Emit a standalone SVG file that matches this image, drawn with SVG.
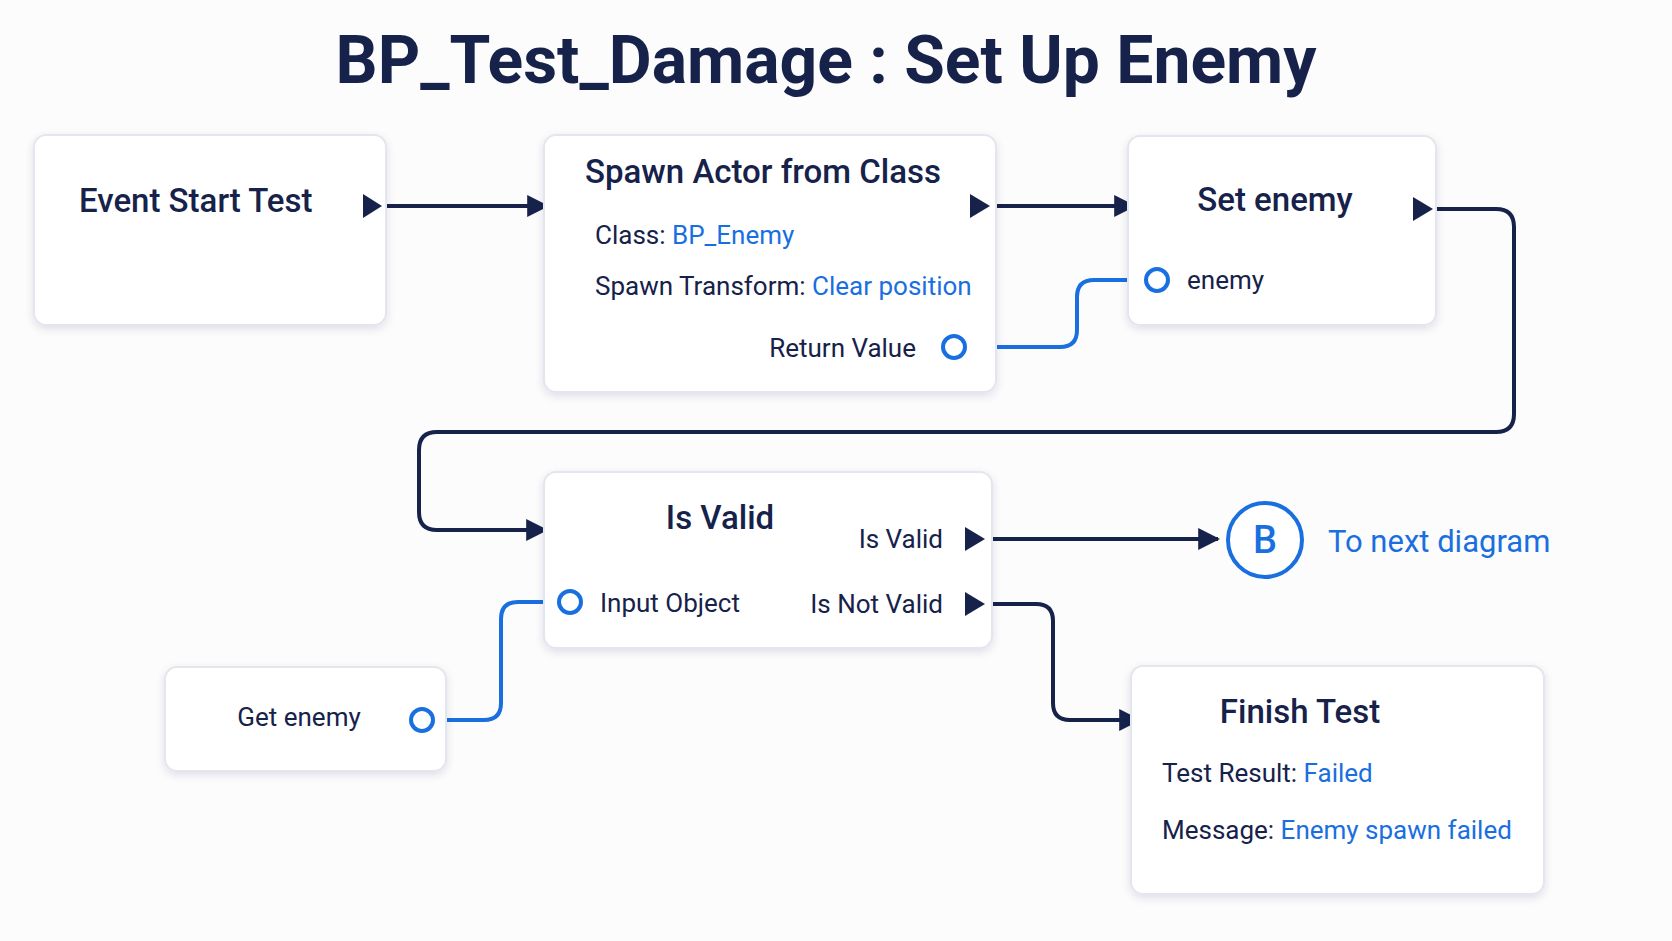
<svg xmlns="http://www.w3.org/2000/svg" width="1672" height="941" viewBox="0 0 1672 941">
<defs>
<style>
.node{fill:#fff;stroke:#e3e6ec;stroke-width:2}
.t{font-family:Roboto,"Liberation Sans",sans-serif;fill:#16224a}
.h{font-size:33px;font-weight:500}
.l{font-size:26px}
.b{fill:#1a6fe0}
.exec{fill:none;stroke:#16224a;stroke-width:4;stroke-linejoin:round}
.data{fill:none;stroke:#1a6fe0;stroke-width:4}
.pin{fill:#fff;stroke:#1a6fe0;stroke-width:4}
.tri{fill:#16224a}
</style>
<filter id="sh" x="-10%" y="-10%" width="120%" height="130%"><feDropShadow dx="0" dy="3" stdDeviation="4" flood-color="#1a2340" flood-opacity="0.12"/></filter>
<marker id="ah2" viewBox="0 0 10 10" refX="9" refY="5" markerWidth="22" markerHeight="22" orient="auto" markerUnits="userSpaceOnUse"><path d="M0,0 L10,5 L0,10Z" fill="#16224a"/></marker>
</defs>
<rect width="1672" height="941" fill="#fcfcfd"/>
<text class="t" x="826" y="83" text-anchor="middle" font-size="66" font-weight="700">BP_Test_Damage : Set Up Enemy</text>

<g id="connectors">
<path class="exec" d="M386,206 H547" marker-end="url(#ah2)"/>
<path class="exec" d="M996,206 H1134" marker-end="url(#ah2)"/>
<path class="exec" d="M1436,209 H1496 Q1514,209 1514,227 V414 Q1514,432 1496,432 H437 Q419,432 419,450 V512 Q419,530 437,530 H546" marker-end="url(#ah2)"/>
<path class="exec" d="M992,539 H1218" marker-end="url(#ah2)"/>
<path class="exec" d="M992,604 H1036 Q1053,604 1053,621 V703 Q1053,720 1070,720 H1139" marker-end="url(#ah2)"/>
<path class="data" d="M967,347 H1060 Q1077,347 1077,330 V297 Q1077,280 1094,280 H1145"/>
<path class="data" d="M435,720 H484 Q501,720 501,703 V619 Q501,602 518,602 H557"/>
</g>

<g id="event-start-test">
<rect class="node" x="34" y="135" width="352" height="190" rx="12" filter="url(#sh)"/>
<text class="t h" x="79" y="212">Event Start Test</text>
<path class="tri" d="M363,194 L382,206 L363,218Z"/>
</g>

<g id="spawn-actor">
<rect class="node" x="544" y="135" width="452" height="257" rx="12" filter="url(#sh)"/>
<text class="t h" x="763" y="183" text-anchor="middle">Spawn Actor from Class</text>
<text class="t l" x="595" y="244">Class: <tspan class="b">BP_Enemy</tspan></text>
<text class="t l" x="595" y="295">Spawn Transform:  <tspan class="b">Clear position</tspan></text>
<text class="t l" x="916" y="357" text-anchor="end">Return Value</text>
<circle class="pin" cx="954" cy="347" r="11"/>
<path class="tri" d="M970,194 L990,206 L970,218Z"/>
</g>

<g id="set-enemy">
<rect class="node" x="1128" y="136" width="308" height="189" rx="12" filter="url(#sh)"/>
<text class="t h" x="1275" y="211" text-anchor="middle">Set enemy</text>
<circle class="pin" cx="1157" cy="280" r="11"/>
<text class="t l" x="1187" y="289">enemy</text>
<path class="tri" d="M1413,197 L1433,209 L1413,221Z"/>
</g>

<g id="is-valid">
<rect class="node" x="544" y="472" width="448" height="176" rx="12" filter="url(#sh)"/>
<text class="t h" x="720" y="529" text-anchor="middle">Is Valid</text>
<text class="t l" x="943" y="548" text-anchor="end">Is Valid</text>
<path class="tri" d="M965,527 L985,539 L965,551Z"/>
<text class="t l" x="943" y="613" text-anchor="end">Is Not Valid</text>
<path class="tri" d="M965,592 L985,604 L965,616Z"/>
<circle class="pin" cx="570" cy="602" r="11"/>
<text class="t l" x="600" y="612">Input Object</text>
</g>

<g id="connector-b">
<circle cx="1265" cy="540" r="37" fill="#fff" stroke="#1a6fe0" stroke-width="4"/>
<text class="t b" x="1265" y="553" text-anchor="middle" font-size="38" font-weight="500">B</text>
<text class="t b" x="1328" y="552" font-size="31">To next diagram</text>
</g>

<g id="get-enemy">
<rect class="node" x="165" y="667" width="281" height="104" rx="12" filter="url(#sh)"/>
<text class="t l" x="299" y="726" text-anchor="middle">Get enemy</text>
<circle class="pin" cx="422" cy="720" r="11"/>
</g>

<g id="finish-test">
<rect class="node" x="1131" y="666" width="413" height="228" rx="12" filter="url(#sh)"/>
<text class="t h" x="1300" y="723" text-anchor="middle">Finish Test</text>
<text class="t l" x="1162" y="782">Test Result:  <tspan class="b">Failed</tspan></text>
<text class="t l" x="1162" y="839">Message:  <tspan class="b">Enemy spawn failed</tspan></text>
</g>
</svg>
